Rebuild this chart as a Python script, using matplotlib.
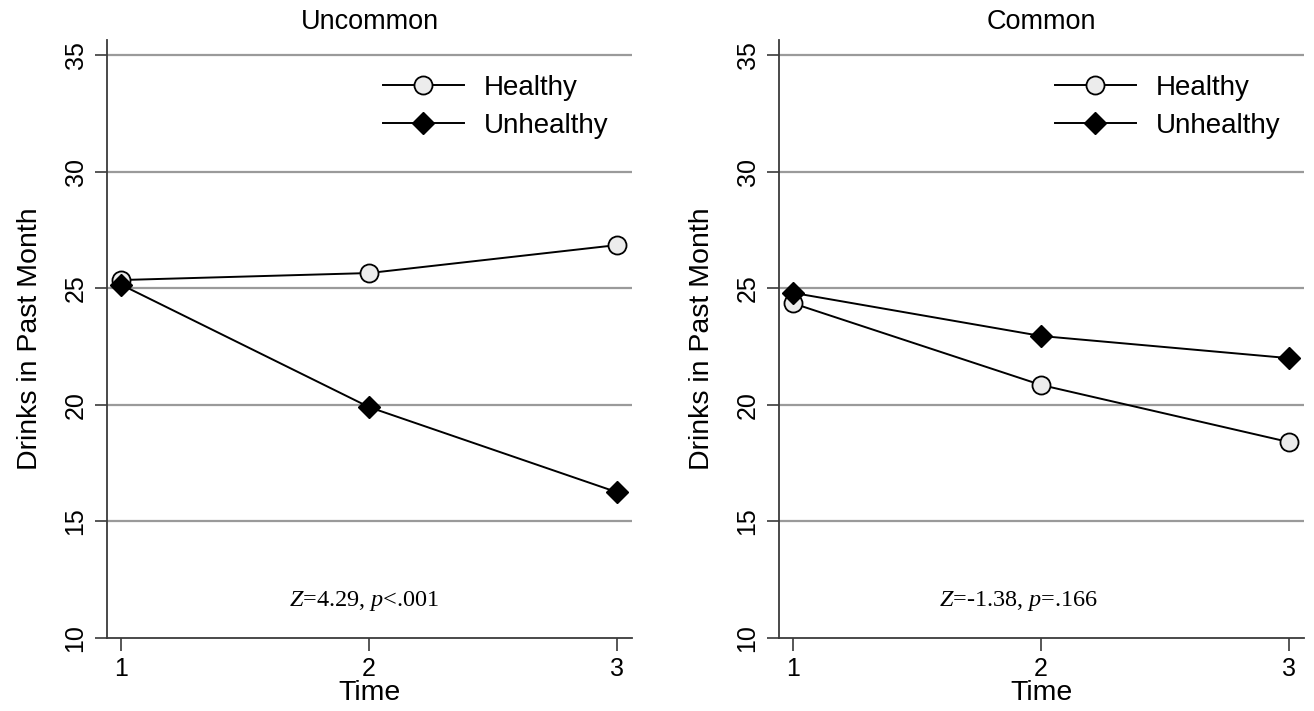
import matplotlib.pyplot as plt

plt.rcParams["font.family"] = ["Liberation Sans", "DejaVu Sans"]
plt.rcParams["mathtext.fontset"] = "custom"
plt.rcParams["mathtext.rm"] = "Liberation Serif"
plt.rcParams["mathtext.it"] = "Liberation Serif:italic"

time = [1, 2, 3]
panels = ["Uncommon", "Common"]
healthy = {"Uncommon": [25.35, 25.65, 26.85], "Common": [24.35, 20.85, 18.4]}
unhealthy = {"Uncommon": [25.15, 19.9, 16.25], "Common": [24.8, 22.95, 22.0]}
stats = {"Uncommon": r"$Z$=4.29, $p$<.001", "Common": r"$Z$=-1.38, $p$=.166"}
stat_x = {"Uncommon": 1.98, "Common": 1.91}

fig = plt.figure(figsize=(13.14, 7.11), dpi=100)
lefts = [107 / 1314, 779 / 1314]
w = 525 / 1314
bottom = 1 - 638 / 711
h = (638 - 40) / 711

axis_col = "#3a3a3a"
for name, l in zip(panels, lefts):
    ax = fig.add_axes([l, bottom, w, h])
    for y in [15, 20, 25, 30, 35]:
        ax.axhline(y, color="#9a9a9a", lw=1.6, zorder=0)
    ax.plot(time, healthy[name], color="black", lw=1.4, marker="o", ms=13,
            mfc="#ececec", mec="black", mew=1.3, label="Healthy", zorder=3)
    ax.plot(time, unhealthy[name], color="black", lw=1.4, marker="D", ms=11,
            mfc="black", mec="black", label="Unhealthy", zorder=3)
    ax.set_xlim(0.943, 3.06)
    ax.set_ylim(10, 35 + 15 / 23.32)
    ax.set_xticks(time)
    ax.set_yticks([10, 15, 20, 25, 30, 35])
    ax.tick_params(axis="both", direction="out", length=9, width=1.2,
                   color=axis_col, labelsize=18, pad=5)
    for t in ax.get_yticklabels():
        t.set_rotation(90)
        t.set_va("center")
    for s in ["top", "right"]:
        ax.spines[s].set_visible(False)
    for s in ["left", "bottom"]:
        ax.spines[s].set_color(axis_col)
        ax.spines[s].set_linewidth(1.3)
    ax.set_title(name, fontsize=19.5, pad=8)
    ax.set_xlabel("Time", fontsize=20.5, labelpad=-1)
    ax.set_ylabel("Drinks in Past Month", fontsize=20.5, labelpad=15)
    ax.text(stat_x[name], 11.6, stats[name], fontsize=17.5, ha="center",
            va="center", family="Liberation Serif")
    ax.legend(loc="upper left", bbox_to_anchor=(0.526, 0.942), frameon=False,
              fontsize=20, handlelength=2.9, handletextpad=0.72,
              labelspacing=0.45, borderpad=0, borderaxespad=0)

fig.savefig("out.png", dpi=100)
